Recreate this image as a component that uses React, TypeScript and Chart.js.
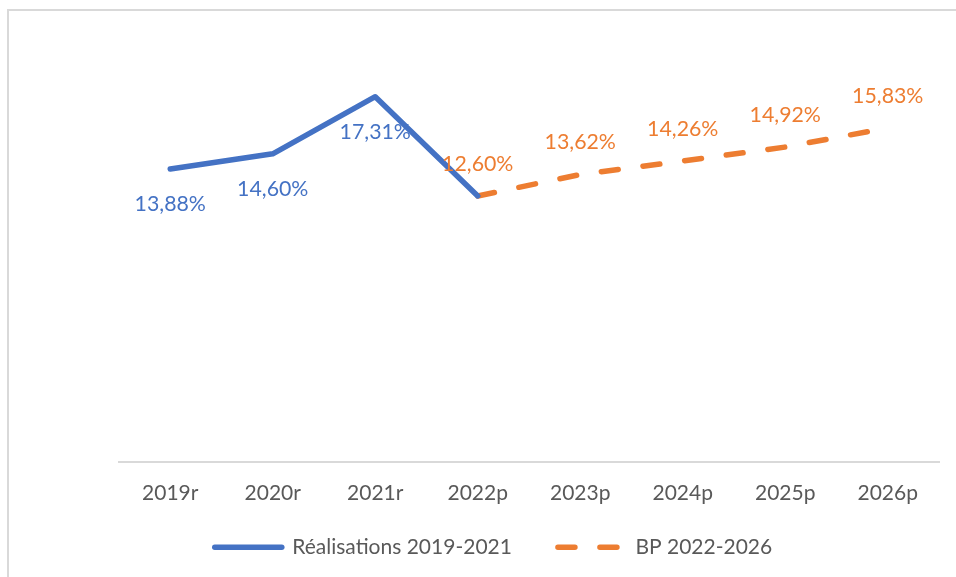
import { useEffect, useRef } from "react";
import { Chart, registerables } from "chart.js";

Chart.register(...registerables);

const categories = ["2019r", "2020r", "2021r", "2022p", "2023p", "2024p", "2025p", "2026p"];
const realisations: (number | null)[] = [13.88, 14.6, 17.31, 12.6, null, null, null, null];
const budget: (number | null)[] = [null, null, null, 12.6, 13.62, 14.26, 14.92, 15.83];
const seriesNames = ["Réalisations 2019-2021", "BP 2022-2026"];
const realisationsLabelled = [0, 1, 2];
const budgetLabelled = [3, 4, 5, 6, 7];

const BLUE = "#4472C4";
const ORANGE = "#ED7D31";
const TEXT = "#595959";
const FONT = "Lato";

const fmt = (v: number) => v.toFixed(2).replace(".", ",") + "%";

const labelPlugin = {
  id: "valueLabels",
  afterDatasetsDraw(chart: any) {
    const ctx = chart.ctx;
    ctx.save();
    ctx.font = `21.3px ${FONT}`;
    ctx.textAlign = "center";
    ctx.textBaseline = "middle";
    const specs = [
      { ds: 0, idx: realisationsLabelled, color: BLUE, dy: 35 },
      { ds: 1, idx: budgetLabelled, color: ORANGE, dy: -32 },
    ];
    specs.forEach((s) => {
      const meta = chart.getDatasetMeta(s.ds);
      const values = chart.data.datasets[s.ds].data;
      s.idx.forEach((i) => {
        const p = meta.data[i];
        const v = values[i];
        if (!p || v == null) return;
        ctx.fillStyle = s.color;
        ctx.fillText(fmt(v), p.x, p.y + s.dy);
      });
    });
    ctx.restore();
  },
};

export default function App() {
  const ref = useRef<HTMLCanvasElement>(null);

  useEffect(() => {
    if (!ref.current) return;
    const chart = new Chart(ref.current, {
      type: "line",
      data: {
        labels: categories,
        datasets: [
          {
            label: seriesNames[0],
            data: realisations,
            borderColor: BLUE,
            backgroundColor: BLUE,
            borderWidth: 5.5,
            borderCapStyle: "round",
            borderJoinStyle: "round",
            pointRadius: 0,
            tension: 0,
            spanGaps: false,
          },
          {
            label: seriesNames[1],
            data: budget,
            borderColor: ORANGE,
            backgroundColor: ORANGE,
            borderWidth: 5.5,
            borderCapStyle: "round",
            borderJoinStyle: "round",
            borderDash: [17, 25],
            pointRadius: 0,
            tension: 0,
            spanGaps: false,
          },
        ],
      },
      options: {
        responsive: false,
        animation: false,
        layout: { padding: { left: 48, right: 17, top: 40, bottom: 9.25 } },
        scales: {
          x: {
            offset: true,
            grid: { display: false, drawTicks: false },
            border: { display: true, color: "#D9D9D9", width: 2 },
            ticks: { color: TEXT, font: { family: FONT, size: 21 }, mirror: true, padding: -44.5, maxRotation: 0 },
            afterFit: (scale: any) => {
              scale.height = 29.25;
            },
          },
          y: {
            min: 0,
            max: 20,
            grid: { display: false, drawTicks: false },
            border: { display: false },
            ticks: { display: false },
            afterFit: (scale: any) => {
              scale.width = 71;
            },
          },
        },
        plugins: {
          tooltip: { enabled: false },
          legend: {
            position: "bottom",
            labels: {
              usePointStyle: true,
              pointStyle: "line",
              pointStyleWidth: 67,
              padding: 46,
              color: TEXT,
              font: { family: FONT, size: 21 },
              generateLabels: (chart: any) => {
                const items = Chart.defaults.plugins.legend.labels.generateLabels(chart);
                return items.map((it: any) => {
                  const ds = chart.data.datasets[it.datasetIndex];
                  return {
                    ...it,
                    lineWidth: 5.5,
                    lineCap: "round",
                    lineDash: ds.borderDash || [],
                    lineDashOffset: 0,
                    strokeStyle: ds.borderColor,
                    fillStyle: ds.borderColor,
                  };
                });
              },
            },
          },
        },
      },
      plugins: [labelPlugin],
    });
    return () => chart.destroy();
  }, []);

  return (
    <div style={{ position: "fixed", left: 0, top: 0, width: 956, height: 577, background: "#fff", overflow: "hidden" }}>
      <div
        style={{
          position: "absolute",
          left: 7,
          top: 9,
          width: 1000,
          height: 1000,
          borderLeft: "2px solid #D9D9D9",
          borderTop: "2px solid #D9D9D9",
        }}
      />
      <canvas ref={ref} width={956} height={577} style={{ position: "absolute", left: 0, top: 0, display: "block" }} />
    </div>
  );
}
